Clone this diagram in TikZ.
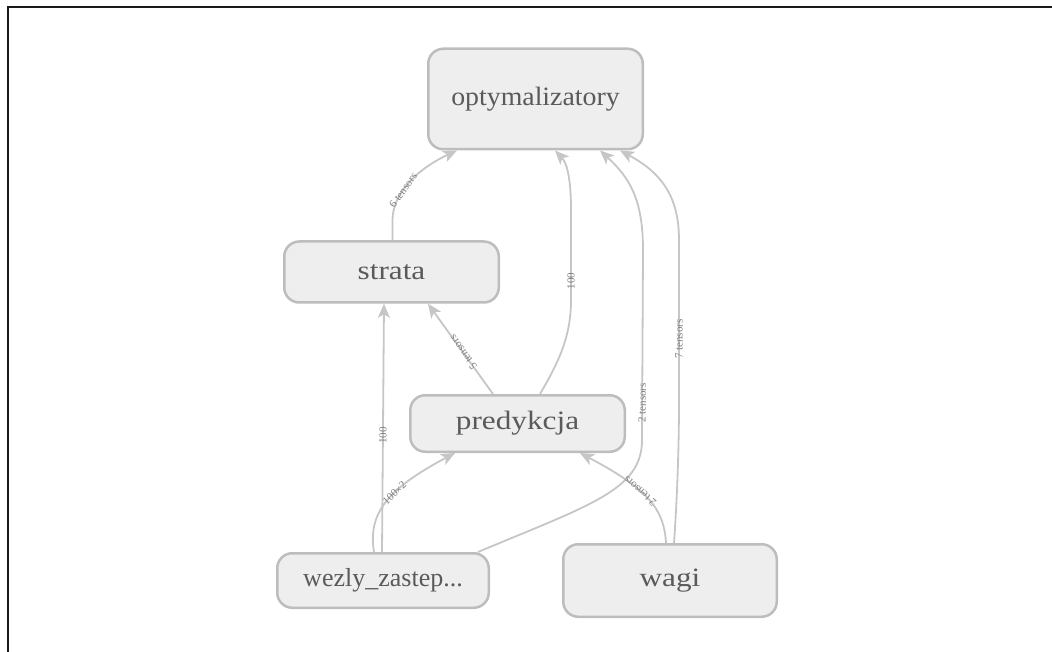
\documentclass[tikz,border=0pt]{standalone}
\usepackage{fontspec}
\setmainfont{Liberation Serif}
\newfontfamily\nodefont[FakeStretch=1.18]{Liberation Serif}
\newfontfamily\nodefonto[FakeStretch=1.05]{Liberation Serif}
\newfontfamily\nodefontn{Liberation Serif}
\newfontfamily\labfont{Liberation Serif}
\usetikzlibrary{arrows.meta,calc}
\definecolor{boxfill}{HTML}{EEEEEE}
\definecolor{boxline}{HTML}{BDBDBD}
\definecolor{textcol}{HTML}{5A5A5A}
\definecolor{edgecol}{HTML}{C6C6C6}
\definecolor{labcol}{HTML}{7E7E7E}
\definecolor{framecol}{HTML}{1A1A1A}
\tikzset{
  box/.style={draw=boxline, fill=boxfill, line width=2.5pt, rounded corners=15pt,
    inner sep=0pt, text=textcol, font=\nodefont\fontsize{26.5}{30}\selectfont},
  boxo/.style={box, font=\nodefonto\fontsize{26.5}{30}\selectfont},
  boxn/.style={box, font=\nodefontn\fontsize{26}{30}\selectfont},
  edge/.style={draw=edgecol, line width=1.8pt,
    -{Stealth[length=14pt,width=12pt,inset=3.5pt]}},
  lab/.style={sloped, allow upside down, inner sep=1pt, text=labcol,
    font=\labfont\fontsize{11}{12}\selectfont}
}
\begin{document}
\begin{tikzpicture}[x=1pt,y=-1pt]
\useasboundingbox (0,0) rectangle (1052,652);
\draw[framecol, line width=2pt] (7.5,652) -- (7.5,7.5) -- (1052,7.5);

\node[boxo, minimum width=214.5pt, minimum height=100.5pt] (opt) at (535.5,99) {optymalizatory};
\node[box, minimum width=214.5pt, minimum height=61pt] (strata) at (391.5,272) {strata};
\node[box, minimum width=214.5pt, minimum height=56.5pt] (pred) at (517.5,423.5) {predykcja};
\node[boxn, minimum width=211.5pt, minimum height=54.5pt] (wez) at (383,580.5) {wezly\_zastep...};
\node[box, minimum width=213.5pt, minimum height=72.5pt] (wagi) at (670,580.5) {wagi};

% strata -> optymalizatory
\draw[edge] ([xshift=1pt]strata.north) -- (392.5,220)
  .. controls (392.5,195) and (415,170) .. ([xshift=-78.5pt]opt.south)
  node[lab, pos=0.4] {6 tensors};
% predykcja -> optymalizatory
\draw[edge] ([xshift=22.5pt]pred.north) .. controls (560,360) and (571,335) .. (571,300)
  -- (571,210) node[lab, pos=0.21] {100}
  .. controls (571,175) and (566,162) .. ([xshift=19.5pt]opt.south);
% wezly -> optymalizatory
\draw[edge] ([xshift=95pt]wez.north) .. controls (590,505) and (642,490) .. (642,440)
  -- (643,250) node[lab, pos=0.195] {2 tensors}
  .. controls (643,200) and (630,178) .. ([xshift=64.5pt]opt.south);
% wagi -> optymalizatory
\draw[edge] ([xshift=4pt]wagi.north) .. controls (677,500) and (679,450) .. (679,400)
  -- (679,240) node[lab, pos=0.38] {7 tensors}
  .. controls (679,195) and (660,172) .. ([xshift=84.5pt]opt.south);
% predykcja -> strata
\draw[edge] ([xshift=-24.5pt]pred.north) -- ([xshift=36.5pt]strata.south)
  node[lab, pos=0.46] {5 tensors};
% wezly -> strata
\draw[edge] ([xshift=-1pt]wez.north) -- ([xshift=-7.5pt]strata.south)
  node[lab, pos=0.47] {100};
% wezly -> predykcja
\draw[edge] ([xshift=-9pt]wez.north) .. controls (368,515) and (385,490) .. ([xshift=-62.5pt]pred.south)
  node[lab, pos=0.6] {100×2};
% wagi -> predykcja
\draw[edge] ([xshift=-4pt]wagi.north) .. controls (664,510) and (650,490) .. ([xshift=62.5pt]pred.south)
  node[lab, pos=0.6] {2 tensors};
\end{tikzpicture}
\end{document}
